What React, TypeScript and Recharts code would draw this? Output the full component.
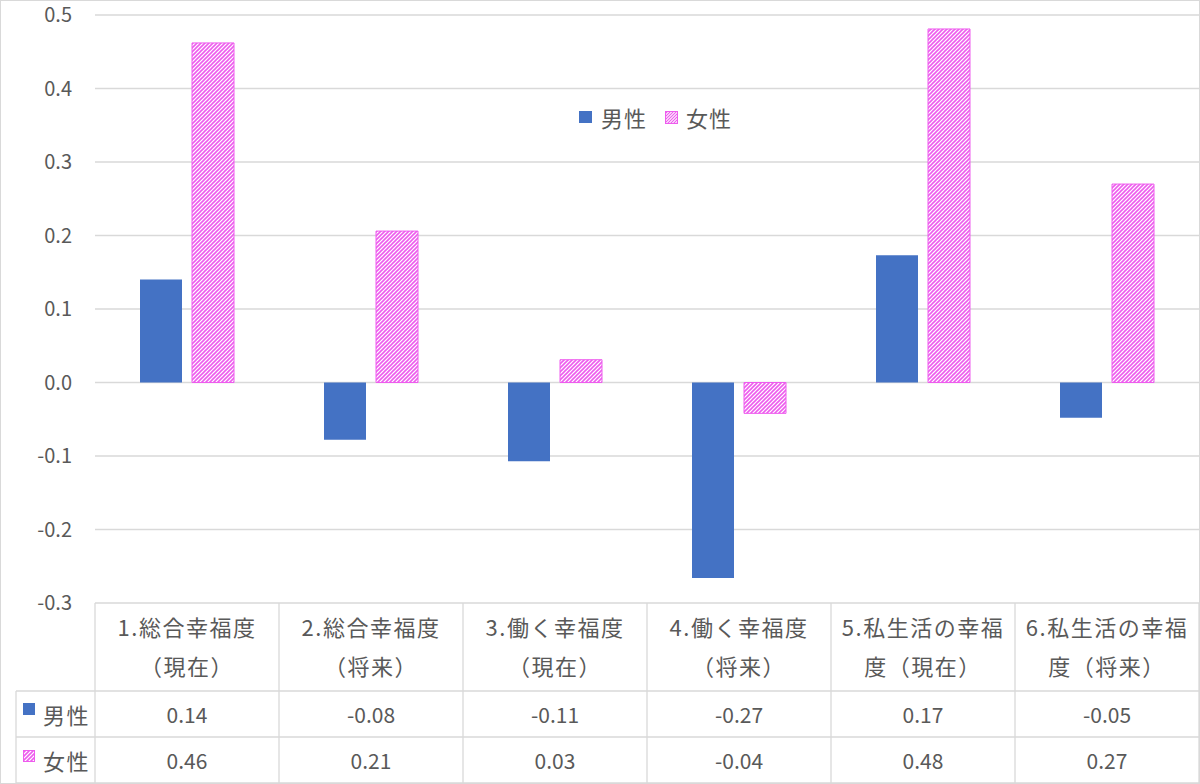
import * as React from "react";
import { BarChart, Bar, XAxis, YAxis, CartesianGrid, Legend } from "recharts";

// 年代・性別ごとの幸福度差（男性／女性）
const CATEGORY_LINES: string[][] = [
  ["1.総合幸福度", "（現在）"],
  ["2.総合幸福度", "（将来）"],
  ["3.働く幸福度", "（現在）"],
  ["4.働く幸福度", "（将来）"],
  ["5.私生活の幸福", "度（現在）"],
  ["6.私生活の幸福", "度（将来）"],
];
const MEN = [0.14, -0.078, -0.107, -0.266, 0.173, -0.048];
const WOMEN = [0.462, 0.206, 0.031, -0.042, 0.481, 0.27];
const Y_TICKS = [-0.3, -0.2, -0.1, 0, 0.1, 0.2, 0.3, 0.4, 0.5];
const SERIES = [
  { key: "men", label: "男性" },
  { key: "women", label: "女性" },
];

const W = 1200;
const H = 784;
const AXIS_W = 95;
const TABLE_H = 181;
const PLOT_BOTTOM = H - TABLE_H;
const BAND = (W - AXIS_W - 1) / CATEGORY_LINES.length;
const ROW1 = 691;
const ROW2 = 737;
const ROW3 = 783;
const ROW_HEAD_X = 16;

const FONT = '"Noto Sans CJK JP", "Noto Sans", sans-serif';
const TEXT = "#595959";
const GRID = "#d9d9d9";
const BLUE = "#4472C4";
const PINK = "#EE5CEE";

const chartData = CATEGORY_LINES.map((lines, i) => ({
  name: lines.join(""),
  men: MEN[i],
  women: WOMEN[i],
}));

function HatchSwatch({ id, size = 12 }: { id: string; size?: number }) {
  return (
    <svg width={size} height={size} style={{ display: "block" }}>
      <defs>
        <pattern id={id} patternUnits="userSpaceOnUse" width="3" height="3">
          <rect width="3" height="3" fill="#fff" />
          <path d="M-1,1 l2,-2 M0,3 l3,-3 M2,4 l2,-2" stroke={PINK} strokeWidth="1.2" />
        </pattern>
      </defs>
      <rect x="0.5" y="0.5" width={size - 1} height={size - 1} fill={`url(#${id})`} stroke={PINK} />
    </svg>
  );
}

function LegendBox() {
  return (
    <div style={{ display: "flex", alignItems: "center", fontFamily: FONT, fontSize: 22, color: TEXT, letterSpacing: 1 }}>
      <div style={{ width: 13, height: 12, background: BLUE }} />
      <span style={{ marginLeft: 9 }}>男性</span>
      <div style={{ marginLeft: 18 }}>
        <HatchSwatch id="legendHatch" size={13} />
      </div>
      <span style={{ marginLeft: 8 }}>女性</span>
    </div>
  );
}

function TableTick(props: any) {
  const { x, index } = props;
  const left = x - BAND / 2;
  const right = x + BAND / 2;
  const lines = CATEGORY_LINES[index] || [];
  const txt = { fontFamily: FONT, fontSize: 21, fill: TEXT, textAnchor: "middle" as const, dominantBaseline: "central" as const };
  const cjk = { ...txt, fontSize: 22, letterSpacing: 1.5 };
  return (
    <g>
      <line x1={right} y1={PLOT_BOTTOM} x2={right} y2={ROW3} stroke={GRID} strokeWidth={1.3} />
      {index === 0 && <line x1={left} y1={PLOT_BOTTOM} x2={left} y2={ROW3} stroke={GRID} strokeWidth={1.3} />}
      <line x1={left} y1={ROW1} x2={right} y2={ROW1} stroke={GRID} strokeWidth={1.3} />
      <line x1={left} y1={ROW2} x2={right} y2={ROW2} stroke={GRID} strokeWidth={1.3} />
      <line x1={left} y1={ROW3} x2={right} y2={ROW3} stroke={GRID} strokeWidth={1.3} />
      <text x={x} y={626} {...cjk}>{lines[0]}</text>
      <text x={x} y={665} {...cjk}>{lines[1]}</text>
      <text x={x} y={714} {...txt}>{MEN[index].toFixed(2)}</text>
      <text x={x} y={760} {...txt}>{WOMEN[index].toFixed(2)}</text>
      {index === 0 && (
        <g>
          <line x1={ROW_HEAD_X} y1={ROW1} x2={left} y2={ROW1} stroke={GRID} strokeWidth={1.3} />
          <line x1={ROW_HEAD_X} y1={ROW2} x2={left} y2={ROW2} stroke={GRID} strokeWidth={1.3} />
          <line x1={ROW_HEAD_X} y1={ROW3} x2={left} y2={ROW3} stroke={GRID} strokeWidth={1.3} />
          <line x1={ROW_HEAD_X} y1={ROW1} x2={ROW_HEAD_X} y2={ROW3} stroke={GRID} strokeWidth={1.3} />
          <rect x={23} y={703} width={12} height={12} fill={BLUE} />
          <text x={43} y={714} {...cjk} textAnchor="start">{SERIES[0].label}</text>
          <rect x={23.5} y={750.5} width={11} height={11} fill="url(#barHatch)" stroke={PINK} />
          <text x={43} y={760} {...cjk} textAnchor="start">{SERIES[1].label}</text>
        </g>
      )}
    </g>
  );
}

export default function App() {
  return (
    <div style={{ position: "absolute", left: 0, top: 0, width: W, height: H, background: "#fff" }}>
      <BarChart
        width={W}
        height={H}
        data={chartData}
        margin={{ top: 15, right: 1, left: 0, bottom: 0 }}
        barSize={42}
        barGap={10}
      >
        <defs>
          <pattern id="barHatch" patternUnits="userSpaceOnUse" width="4" height="4">
            <rect width="4" height="4" fill="#fff" />
            <path d="M-1,1 l2,-2 M0,4 l4,-4 M3,5 l2,-2" stroke={PINK} strokeWidth="1.6" />
          </pattern>
        </defs>
        <CartesianGrid vertical={false} stroke={GRID} strokeWidth={1.3} />
        <XAxis
          dataKey="name"
          height={TABLE_H}
          axisLine={false}
          tickLine={false}
          interval={0}
          tick={(p: any) => <TableTick {...p} />}
        />
        <YAxis
          width={AXIS_W}
          domain={[-0.3, 0.5]}
          ticks={Y_TICKS}
          axisLine={false}
          tickLine={false}
          tickMargin={17}
          tickFormatter={(v: number) => v.toFixed(1)}
          tick={{ fontFamily: FONT, fontSize: 20, fill: TEXT }}
        />
        <Legend
          layout="horizontal"
          verticalAlign="middle"
          align="center"
          content={() => <LegendBox />}
          wrapperStyle={{ position: "absolute", top: 101, left: 579, width: "auto" }}
        />
        <Bar dataKey="men" name="男性" fill={BLUE} isAnimationActive={false} />
        <Bar dataKey="women" name="女性" fill="url(#barHatch)" stroke={PINK} strokeWidth={1} isAnimationActive={false} />
      </BarChart>
      <div
        style={{
          position: "absolute",
          left: 0,
          top: 0,
          width: W,
          height: H,
          boxSizing: "border-box",
          border: `1px solid ${GRID}`,
          pointerEvents: "none",
        }}
      />
    </div>
  );
}
